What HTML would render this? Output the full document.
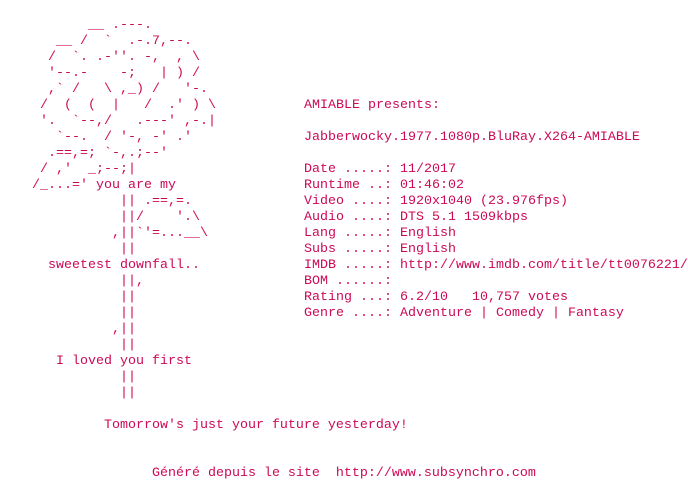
<!DOCTYPE html>
<html><head><meta charset="utf-8"><style>
html,body{margin:0;padding:0;background:#fff;width:688px;height:480px;overflow:hidden}
pre{position:absolute;margin:0;font-family:"Liberation Mono",monospace;font-size:13.333px;line-height:16px;color:#cc0a55;white-space:pre}
</style></head><body>
<pre style="left:0;top:18px">           __ .---.
       __ /  `  .-.7,--.
      /  `. .-''. -,  , \
      '--.-    -;   | ) /
      ,` /   \ ,_) /   '-.
     /  (  (  |   /  .' ) \
     '.  `--,/   .---' ,-.|
       `--.  / '-, -' .'
      .==,=; `-,.;--'
     / ,'  _;--;|
    /_...=' you are my
               || .==,=.
               ||/    '.\
              ,||`'=...__\
               ||
      sweetest downfall..
               ||,
               ||
               ||
              ,||
               ||
       I loved you first
               ||
               ||

             Tomorrow's just your future yesterday!


                   Généré depuis le site  http://www.subsynchro.com</pre>
<pre style="left:304px;top:98px">AMIABLE presents:

Jabberwocky.1977.1080p.BluRay.X264-AMIABLE

Date .....: 11/2017
Runtime ..: 01:46:02
Video ....: 1920x1040 (23.976fps)
Audio ....: DTS 5.1 1509kbps
Lang .....: English
Subs .....: English
IMDB .....: http://www.imdb.com/title/tt0076221/
BOM ......:
Rating ...: 6.2/10   10,757 votes
Genre ....: Adventure | Comedy | Fantasy</pre>
</body></html>
